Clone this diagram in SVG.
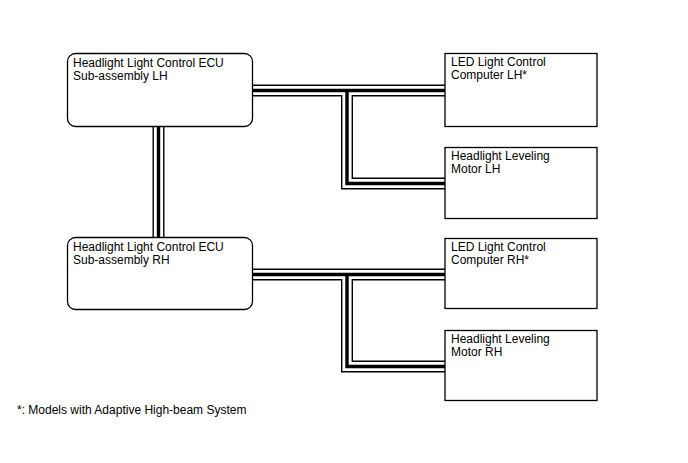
<svg xmlns="http://www.w3.org/2000/svg" xmlns:xlink="http://www.w3.org/1999/xlink" width="688" height="463" viewBox="0 0 688 463">
<style>
.box{fill:#fff;stroke:#000;stroke-width:1.3}
.t{font-family:"Liberation Sans",Arial,sans-serif;font-size:12px;fill:#000}
.w1{fill:none;stroke:#000;stroke-width:12;stroke-linejoin:miter}
.w2{fill:none;stroke:#fff;stroke-width:9.2;stroke-linejoin:miter}
.w3{fill:none;stroke:#000;stroke-width:3.4;stroke-linejoin:miter}
</style>
<defs>
<path id="hLH" d="M252,90.5 H445 M347,90.5 V183.5 H445"/>
<path id="hRH" d="M252,274.5 H445 M347,274.5 V366.5 H445"/>
<path id="hECU" d="M158.5,127 V237"/>
</defs>
<rect width="688" height="463" fill="#fff"/>
<g id="connectors">
<use xlink:href="#hLH" class="w1"/><use xlink:href="#hLH" class="w2"/><use xlink:href="#hLH" class="w3"/>
<use xlink:href="#hRH" class="w1"/><use xlink:href="#hRH" class="w2"/><use xlink:href="#hRH" class="w3"/>
<use xlink:href="#hECU" class="w1"/><use xlink:href="#hECU" class="w2"/><use xlink:href="#hECU" class="w3"/>
</g>
<g id="ecu-lh">
<rect class="box" x="67.5" y="53.5" width="185" height="73" rx="8"/>
<text class="t" x="73" y="67">Headlight Light Control ECU</text>
<text class="t" x="73" y="80">Sub-assembly LH</text>
</g>
<g id="led-lh">
<rect class="box" x="445" y="53.5" width="152" height="73"/>
<text class="t" x="451" y="66">LED Light Control</text>
<text class="t" x="451" y="79">Computer LH*</text>
</g>
<g id="motor-lh">
<rect class="box" x="445" y="147.5" width="152" height="71"/>
<text class="t" x="451" y="160">Headlight Leveling</text>
<text class="t" x="451" y="173">Motor LH</text>
</g>
<g id="ecu-rh">
<rect class="box" x="67.5" y="237.5" width="185" height="72" rx="8"/>
<text class="t" x="73" y="251">Headlight Light Control ECU</text>
<text class="t" x="73" y="264">Sub-assembly RH</text>
</g>
<g id="led-rh">
<rect class="box" x="445" y="238.5" width="152" height="70"/>
<text class="t" x="451" y="251">LED Light Control</text>
<text class="t" x="451" y="264">Computer RH*</text>
</g>
<g id="motor-rh">
<rect class="box" x="445" y="330.5" width="152" height="70"/>
<text class="t" x="451" y="343">Headlight Leveling</text>
<text class="t" x="451" y="356">Motor RH</text>
</g>
<text class="t" x="17" y="414">*: Models with Adaptive High-beam System</text>
</svg>
